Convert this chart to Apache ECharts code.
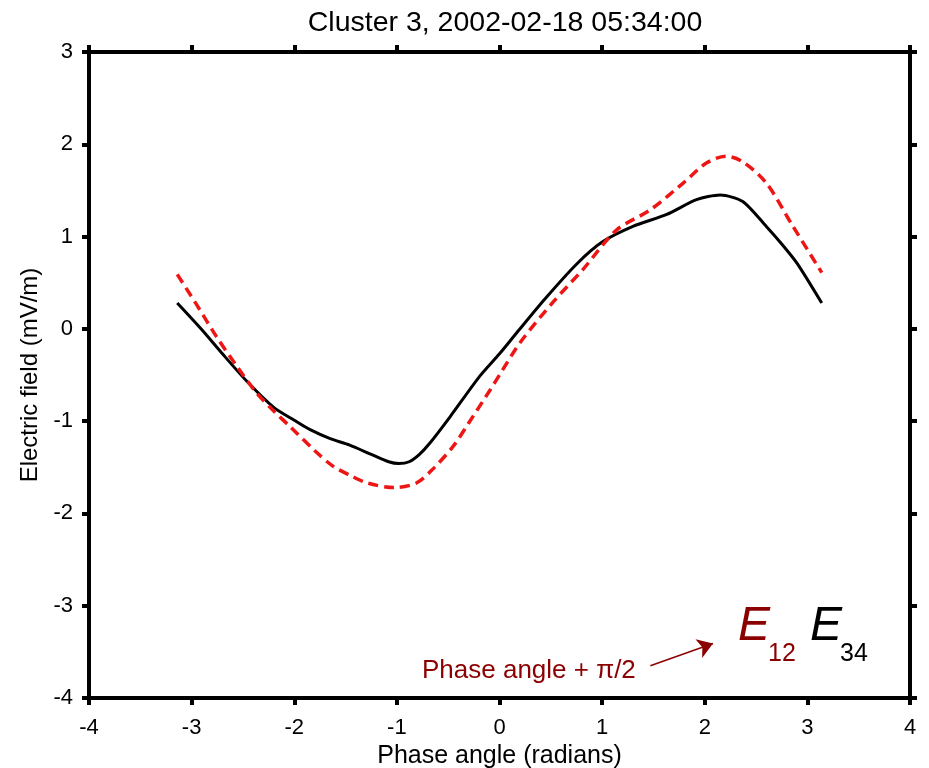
<!DOCTYPE html>
<html><head><meta charset="utf-8">
<script src="https://cdn.jsdelivr.net/npm/echarts@6/dist/echarts.min.js"></script>
<style>html,body{margin:0;padding:0;background:#fff}#c{width:929px;height:768px}</style>
</head><body><div id="c"></div>
<script>
// Data
const titleText = 'Cluster 3, 2002-02-18 05:34:00';
const xTickRange = [-4, 4];
const yTickRange = [-4, 3];

const phaseE34 = [-3.14, -2.9, -2.7, -2.46, -2.2, -2.0, -1.85, -1.65, -1.46, -1.25, -1.08, -0.98, -0.88, -0.78, -0.68, -0.48, -0.19, 0.0, 0.17, 0.44, 0.75, 1.0, 1.3, 1.63, 1.92, 2.15, 2.37, 2.6, 2.75, 2.9, 3.14];
const valuesE34 = [0.28, -0.01, -0.27, -0.57, -0.85, -0.99, -1.09, -1.19, -1.26, -1.36, -1.44, -1.46, -1.44, -1.36, -1.24, -0.95, -0.51, -0.27, -0.04, 0.32, 0.70, 0.94, 1.11, 1.24, 1.40, 1.45, 1.38, 1.11, 0.92, 0.71, 0.28];

const phaseE12 = [-3.14, -2.95, -2.76, -2.55, -2.37, -2.2, -2.04, -1.8, -1.62, -1.45, -1.29, -1.03, -0.81, -0.65, -0.45, -0.3, -0.09, 0.0, 0.2, 0.53, 0.81, 1.14, 1.47, 1.79, 2.02, 2.21, 2.37, 2.6, 2.86, 3.14];
const valuesE12 = [0.59, 0.26, -0.08, -0.42, -0.69, -0.89, -1.06, -1.32, -1.49, -1.59, -1.67, -1.72, -1.67, -1.52, -1.27, -1.02, -0.66, -0.50, -0.15, 0.30, 0.64, 1.07, 1.29, 1.58, 1.80, 1.87, 1.81, 1.58, 1.11, 0.61];

// annotation arrow (data coordinates)
const arrowStart = [1.47, -3.65];
const arrowEnd = [2.08, -3.41];

const FONT = '"Liberation Sans", Arial, Helvetica, sans-serif';
const darkRed = '#8b0000';

const chart = echarts.init(document.getElementById('c'), null, {renderer: 'canvas'});

function axisBase(extra) {
  return Object.assign({
    type: 'value',
    interval: 1,
    axisLine: {show: true, onZero: false, lineStyle: {color: '#000', width: 4}},
    axisTick: {show: true, inside: false, length: 7, lineStyle: {color: '#000', width: 4}},
    splitLine: {show: false},
    axisLabel: {show: true, color: '#000', fontSize: 22, fontFamily: FONT}
  }, extra);
}

const option = {
  animation: false,
  backgroundColor: '#fff',
  title: {
    text: titleText,
    left: 500, top: 4, textAlign: 'center',
    textStyle: {fontFamily: FONT, fontSize: 28.5, fontWeight: 'normal', color: '#000'}
  },
  grid: {left: 89, right: 19, top: 52, bottom: 70, containLabel: false, outerBoundsMode: 'none'},
  xAxis: [
    axisBase({min: xTickRange[0], max: xTickRange[1], position: 'bottom',
      name: 'Phase angle (radians)', nameLocation: 'middle', nameGap: 42,
      nameTextStyle: {fontFamily: FONT, fontSize: 25, color: '#000'},
      axisLabel: {show: true, color: '#000', fontSize: 22, fontFamily: FONT, margin: 19}}),
    axisBase({min: xTickRange[0], max: xTickRange[1], position: 'top', axisLabel: {show: false}})
  ],
  yAxis: [
    axisBase({min: yTickRange[0], max: yTickRange[1], position: 'left',
      name: 'Electric field (mV/m)', nameLocation: 'middle', nameGap: 44,
      nameTextStyle: {fontFamily: FONT, fontSize: 24, color: '#000'},
      axisLabel: {show: true, color: '#000', fontSize: 22, fontFamily: FONT, margin: 16}}),
    axisBase({min: yTickRange[0], max: yTickRange[1], position: 'right', axisLabel: {show: false}})
  ],
  series: [
    {
      name: 'E34', type: 'line', xAxisIndex: 0, yAxisIndex: 0,
      data: phaseE34.map((x, i) => [x, valuesE34[i]]),
      smooth: 0.25, showSymbol: false, symbol: 'none',
      lineStyle: {color: '#000', width: 3}
    },
    {
      name: 'E12', type: 'line', xAxisIndex: 0, yAxisIndex: 0,
      data: phaseE12.map((x, i) => [x, valuesE12[i]]),
      smooth: 0.3, showSymbol: false, symbol: 'none',
      lineStyle: {color: '#ee1515', width: 3.5, type: [10, 6]},
      markLine: {
        silent: true, symbol: ['none', 'arrow'], symbolSize: 15,
        label: {show: false},
        lineStyle: {color: darkRed, width: 1.5, type: 'solid'},
        data: [[{coord: arrowStart}, {coord: arrowEnd}]]
      }
    }
  ],
  graphic: [
    {type: 'text', left: 422, top: 658, silent: true,
      style: {text: 'Phase angle + π/2', font: '26px ' + FONT, fill: darkRed}},
    {type: 'text', left: 738, top: 603, silent: true,
      style: {text: 'E', font: 'italic 48px ' + FONT, fill: darkRed}},
    {type: 'text', left: 768, top: 642, silent: true,
      style: {text: '12', font: '25px ' + FONT, fill: darkRed}},
    {type: 'text', left: 810, top: 603, silent: true,
      style: {text: 'E', font: 'italic 48px ' + FONT, fill: '#000'}},
    {type: 'text', left: 840, top: 642, silent: true,
      style: {text: '34', font: '25px ' + FONT, fill: '#000'}}
  ]
};
chart.setOption(option);
</script></body></html>
